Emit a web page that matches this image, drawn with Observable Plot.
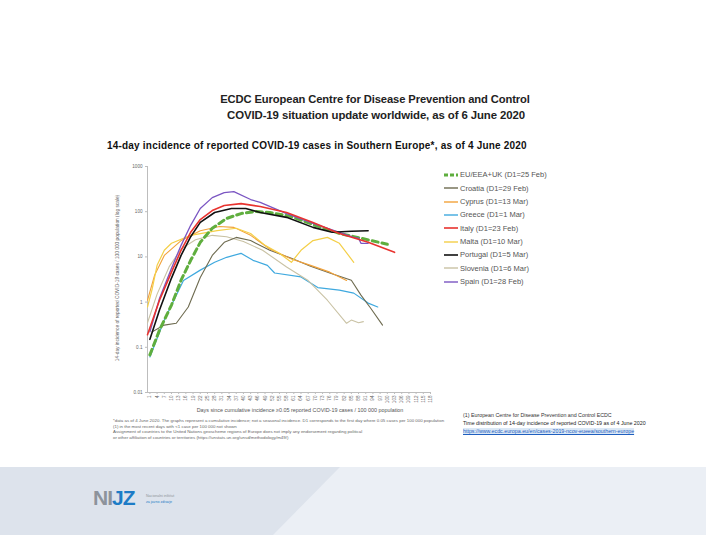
<!DOCTYPE html>
<html><head><meta charset="utf-8">
<script src="https://cdn.jsdelivr.net/npm/d3@7"></script>
<script src="https://cdn.jsdelivr.net/npm/@observablehq/plot@0.6"></script>
<style>
body{margin:0;background:#fff;}
#page{position:relative;width:706px;height:535px;overflow:hidden;font-family:"Liberation Sans",Arial,sans-serif;background:#fff;}
.abs{position:absolute;white-space:nowrap;}
</style></head><body><div id="page"></div>
<script>
// ---------- data (day since D1, 14-day incidence per 100 000) ----------
const seriesNames = ["EU/EEA+UK (D1=25 Feb)","Croatia (D1=29 Feb)","Cyprus (D1=13 Mar)","Greece (D1=1 Mar)","Italy (D1=23 Feb)","Malta (D1=10 Mar)","Portugal (D1=5 Mar)","Slovenia (D1=6 Mar)","Spain (D1=28 Feb)"];
const euEea = [[1,0.068],[5,0.24],[10,0.86],[14,3.05],[18,8.4],[22,21],[27,43],[33,71],[39,91],[45,101],[51,96],[60,78],[69,52],[80,33],[89,26],[100,19]];
const croatia = [[2,0.22],[7,0.31],[12,0.34],[17,0.78],[22,3.5],[27,10.8],[32,21],[37,27],[43,23],[51,14],[60,9.3],[68,6.2],[76,4.4],[85,3.05],[89,1.43],[93,0.74],[98,0.31]];
const cyprus = [[0,1.1],[3,4],[7,10.8],[14,23],[22,38],[30,47],[36,45],[43,30],[51,15],[60,9],[68,6.5],[76,4.6],[83,3]];
const greece = [[1,0.061],[7,0.4],[15,3],[22,5.1],[28,7.6],[33,9.8],[39,12],[44,8.4],[50,6.5],[53,4.4],[64,3.6],[71,2.1],[80,1.84],[86,1.58],[92,0.95],[96,0.78]];
const italy = [[0,0.19],[5,1.1],[10,4.6],[14,14],[18,35],[22,67],[27,106],[32,137],[39,151],[47,130],[58,96],[69,58],[80,33],[92,21],[103,12.6]];
const malta = [[0,0.78],[2,2],[4,6.5],[7,14],[10,20],[18,30],[29,38],[37,43],[43,33],[49,18],[55,12],[60,7.6],[64,14],[69,23],[75,27],[80,20],[86,7.6]];
const portugal = [[1,0.15],[5,0.67],[10,3.4],[14,10.8],[18,28],[22,58],[28,96],[35,118],[41,118],[47,96],[58,75],[69,45],[77,35],[85,37],[92,38]];
const slovenia = [[0,0.35],[4,1.5],[9,6],[14,15],[20,24],[27,30],[33,28],[40,22],[48,14],[58,6],[67,3],[75,1.1],[83,0.34],[85,0.4],[88,0.35],[90,0.37]];
const spain = [[1,0.22],[5,1.2],[10,5.6],[14,18],[18,50],[22,118],[27,205],[32,265],[36,278],[43,186],[47,160],[58,91],[69,55],[80,35],[86,27],[88,26],[89,20],[92,20]];
const seriesData = [euEea,croatia,cyprus,greece,italy,malta,portugal,slovenia,spain];
const xTicks = d3.range(1, 119, 3);
const yTicks = [0.01,0.1,1,10,100,1000];
const yTickLabels = ["0.01","0.1","1","10","100","1000"];

// ---------- styles ----------
const palette = ["#5fae3e","#6e6b50","#f2a23a","#3fa9df","#e8332f","#f4cf48","#111111","#c9c2a4","#7a55c2"];
const widths  = [3,1.1,1.1,1.2,1.6,1.2,1.6,1.1,1.3];
const dashes  = ["6,4",null,null,null,null,null,null,null,null];
const drawOrder = [3,7,1,2,5,0,8,6,4];

const page = document.getElementById("page");
function addText(txt, css){const d=document.createElement("div");d.className="abs";d.textContent=txt;Object.assign(d.style,css);page.appendChild(d);return d;}

// bottom band
const band = document.createElementNS("http://www.w3.org/2000/svg","svg");
band.setAttribute("width",706);band.setAttribute("height",68);
band.style.position="absolute";band.style.left="0";band.style.top="467px";
band.innerHTML='<rect width="706" height="68" fill="#dde3ec"/><polygon points="340,0 706,0 706,68 273,68" fill="#ebeff5"/>';
page.appendChild(band);

// titles
addText("ECDC European Centre for Disease Prevention and Control",{left:"175px",width:"400px",textAlign:"center",top:"93px",fontSize:"11.2px",fontWeight:"bold",color:"#222",letterSpacing:"-0.1px"});
addText("COVID-19 situation update worldwide, as of 6 June 2020",{left:"176px",width:"400px",textAlign:"center",top:"109px",fontSize:"11.4px",fontWeight:"bold",color:"#222",letterSpacing:"-0.1px"});
addText("14-day incidence of reported COVID-19 cases in Southern Europe*, as of 4 June 2020",{left:"107px",top:"140px",fontSize:"10px",fontWeight:"bold",color:"#111",letterSpacing:"0.2px"});

// chart
const table = seriesData.flatMap((arr,i)=>arr.map(([day,value])=>({series:seriesNames[i],day,value})));
const lines = drawOrder.map(i=>Plot.line(table.filter(d=>d.series===seriesNames[i]),{x:"day",y:"value",stroke:palette[i],strokeWidth:widths[i],strokeDasharray:dashes[i]||undefined,strokeLinejoin:"round"}));
const chart = Plot.plot({
  width:340,height:272,marginLeft:47,marginRight:10,marginTop:16,marginBottom:30,
  style:{fontFamily:"Liberation Sans, Arial, sans-serif",fontSize:"4.6px",color:"#666",background:"transparent"},
  x:{domain:[0,118],label:null},
  y:{type:"log",domain:[0.01,1000],label:null},
  marks:[
    Plot.ruleY([0.01],{stroke:"#bdbdbd"}),
    Plot.ruleX([0],{stroke:"#bdbdbd"}),
    Plot.axisY({ticks:yTicks,tickFormat:d=>yTickLabels[yTicks.indexOf(d)],tickSize:2,tickPadding:3,stroke:"#bdbdbd",fontSize:4.6}),
    Plot.axisX({ticks:xTicks,tickFormat:d=>String(d),tickRotate:-90,tickSize:2,tickPadding:1,stroke:"#bdbdbd",fontSize:4.6}),
    ...lines
  ]
});
chart.style.position="absolute";chart.style.left="100px";chart.style.top="150px";
page.appendChild(chart);

// axis titles
addText("14-day incidence of reported COVID-19 cases / 100 000 population (log scale)",{left:"3px",width:"230px",textAlign:"center",top:"275px",fontSize:"4.8px",color:"#666",transform:"rotate(-90deg)",transformOrigin:"115px 3px"});
addText("Days since cumulative incidence \u22650.05 reported COVID-19 cases / 100 000 population",{left:"150px",width:"300px",textAlign:"center",top:"407px",fontSize:"5.4px",color:"#555"});

// legend
seriesNames.forEach((name,i)=>{
  const y = 175 + i*13.35;
  const s = document.createElementNS("http://www.w3.org/2000/svg","svg");
  s.setAttribute("width",16);s.setAttribute("height",6);
  s.style.position="absolute";s.style.left="444px";s.style.top=(y-3)+"px";
  s.innerHTML=`<line x1="0" y1="3" x2="14" y2="3" stroke="${palette[i]}" stroke-width="${Math.max(widths[i],1.4)}" ${dashes[i]?'stroke-dasharray="4,2"':''}/>`;
  page.appendChild(s);
  addText(name,{left:"460px",top:(y-4.8)+"px",fontSize:"7.5px",color:"#555"});
});

// footnotes
const foot = ["*data as of 4 June 2020. The graphs represent a cumulative incidence; not a seasonal incidence. D1 corresponds to the first day where 0.05 cases per 100 000 population",
 "(1) in the most recent days with <1 case per 100 000 not shown",
 "Assignment of countries to the United Nations geoscheme regions of Europe does not imply any endorsement regarding political",
 "or other affiliation of countries or territories (https://unstats.un.org/unsd/methodology/m49/)"];
foot.forEach((t,i)=>addText(t,{left:"113px",top:(418+i*5.6)+"px",fontSize:"4.4px",color:"#666"}));

// source (right)
addText("(1) European Centre for Disease Prevention and Control ECDC",{left:"463px",top:"412px",fontSize:"5.3px",color:"#333"});
addText("Time distribution of 14-day incidence of reported COVID-19 as of 4 June 2020",{left:"463px",top:"420px",fontSize:"5.3px",color:"#222"});
addText("https://www.ecdc.europa.eu/en/cases-2019-ncov-eueea/southern-europe",{left:"463px",top:"428px",fontSize:"5.3px",color:"#1f5fbf",textDecoration:"underline",background:"#dbe8f6"});

// logo
const logo = addText("",{left:"93px",top:"486px",fontSize:"21px",fontWeight:"bold",letterSpacing:"-1px"});
logo.innerHTML='<span style="color:#8d939b">NI</span><span style="color:#1d7cc6">JZ</span>';
addText("Nacionalni inštitut",{left:"146px",top:"494px",fontSize:"3.6px",color:"#8d939b"});
addText("za javno zdravje",{left:"146px",top:"500px",fontSize:"3.6px",color:"#1d7cc6"});
</script></body></html>
